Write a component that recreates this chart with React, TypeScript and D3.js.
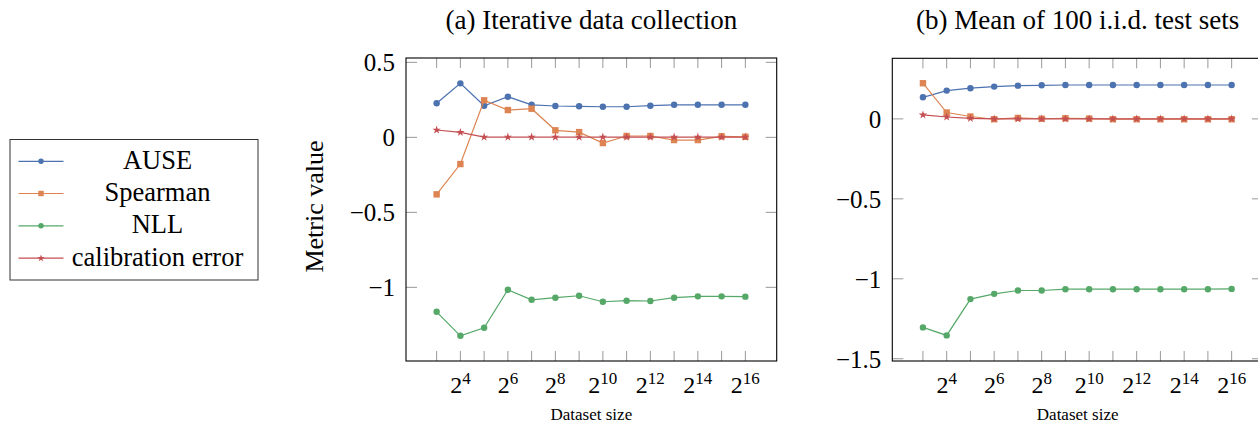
import React from "react";
import * as d3 from "d3";

// x categories: dataset size exponents (2^e)
const exponents = [3, 4, 5, 6, 7, 8, 9, 10, 11, 12, 13, 14, 15, 16];
const xTickLabelExps = [4, 6, 8, 10, 12, 14, 16];

// (a) Iterative data collection
const auseA = [0.227, 0.36, 0.211, 0.271, 0.217, 0.209, 0.207, 0.204, 0.204, 0.211, 0.217, 0.217, 0.217, 0.217];
const spearmanA = [-0.38, -0.178, 0.247, 0.182, 0.191, 0.047, 0.035, -0.038, 0.009, 0.009, -0.018, -0.018, 0.007, 0.004];
const nllA = [-1.163, -1.323, -1.269, -1.016, -1.083, -1.069, -1.056, -1.096, -1.089, -1.091, -1.069, -1.06, -1.06, -1.062];
const calA = [0.049, 0.033, 0.002, 0.002, 0.002, 0.002, 0.002, 0.002, 0.002, 0.002, 0.002, 0.002, 0.002, 0.002];

// (b) Mean of 100 i.i.d. test sets
const auseB = [0.135, 0.177, 0.192, 0.202, 0.208, 0.21, 0.212, 0.212, 0.212, 0.212, 0.212, 0.212, 0.212, 0.212];
const spearmanB = [0.223, 0.04, 0.015, -0.002, 0.006, 0.001, 0.004, 0.002, -0.002, -0.002, -0.002, -0.002, -0.002, -0.002];
const nllB = [-1.304, -1.354, -1.127, -1.094, -1.073, -1.073, -1.065, -1.065, -1.065, -1.065, -1.065, -1.065, -1.065, -1.063];
const calB = [0.025, 0.012, 0.003, 0.0, 0.0, 0.0, 0.0, 0.0, 0.0, 0.0, 0.0, 0.0, 0.0, 0.0];

const seriesNames = ["AUSE", "Spearman", "NLL", "calibration error"];
const yTicksA = [0.5, 0, -0.5, -1];
const yTicksB = [0, -0.5, -1, -1.5];

const colors = ["#4c72b0", "#dd8452", "#55a868", "#c44e52"];
const markers = ["circle", "square", "circle", "star"];
const FONT = "'Liberation Serif', 'Times New Roman', serif";

function fmt(v: number) {
  if (v === 0) return "0";
  return (v < 0 ? "\u2212" : "") + String(Math.abs(v));
}

function Marker({ kind, x, y, color, scale = 1 }: any) {
  if (kind === "circle") return <circle cx={x} cy={y} r={3.2 * scale} fill={color} />;
  if (kind === "square") {
    const s = 6.4 * scale;
    return <rect x={x - s / 2} y={y - s / 2} width={s} height={s} fill={color} />;
  }
  const p = d3.symbol(d3.symbolStar, 22 * scale * scale)();
  return <path d={p || ""} transform={`translate(${x},${y})`} fill={color} />;
}

function Panel({ left, top, width, height, yDomain, yTicks, title, data }: any) {
  const x = d3.scaleLog().base(2).domain([Math.pow(2, 1.71), Math.pow(2, 17.32)]).range([left, left + width]);
  const y = d3.scaleLinear().domain(yDomain).range([top + height, top]);
  const bottom = top + height;
  const right = left + width;
  const tickLen = 10;
  const tickColor = "#999";
  const line = d3
    .line<number>()
    .x((_, i) => x(Math.pow(2, exponents[i])))
    .y((d) => y(d));
  const cx = left + width / 2;
  return (
    <g>
      <text x={cx} y={29} textAnchor="middle" fontFamily={FONT} fontSize={27}>{title}</text>
      {exponents.map((e) => {
        const xx = x(Math.pow(2, e));
        return (
          <g key={"xt" + e}>
            <line x1={xx} x2={xx} y1={bottom} y2={bottom - tickLen} stroke={tickColor} strokeWidth={1} />
            <line x1={xx} x2={xx} y1={top} y2={top + tickLen} stroke={tickColor} strokeWidth={1} />
          </g>
        );
      })}
      {yTicks.map((t: number) => {
        const yy = y(t);
        return (
          <g key={"yt" + t}>
            <line x1={left} x2={left + tickLen + 1} y1={yy} y2={yy} stroke={tickColor} strokeWidth={1} />
            <line x1={right} x2={right - tickLen - 1} y1={yy} y2={yy} stroke={tickColor} strokeWidth={1} />
            <text x={left - 11} y={yy} dy="0.35em" textAnchor="end" fontFamily={FONT} fontSize={25}>{fmt(t)}</text>
          </g>
        );
      })}
      {xTickLabelExps.map((e) => (
        <text key={"xl" + e} x={x(Math.pow(2, e))} y={393} textAnchor="middle" fontFamily={FONT} fontSize={24}>
          <tspan>2</tspan>
          <tspan dy={-9} fontSize={17}>{e}</tspan>
        </text>
      ))}
      <text x={cx} y={420} textAnchor="middle" fontFamily={FONT} fontSize={17}>Dataset size</text>
      {data.map((vals: number[], si: number) => (
        <g key={"s" + si}>
          <path d={line(vals) || ""} fill="none" stroke={colors[si]} strokeWidth={1.2} />
          {vals.map((v, i) => (
            <Marker key={i} kind={markers[si]} x={x(Math.pow(2, exponents[i]))} y={y(v)} color={colors[si]} />
          ))}
        </g>
      ))}
      <rect x={left} y={top} width={width} height={height} fill="none" stroke="#000" strokeWidth={1.1} />
    </g>
  );
}

export default function App() {
  const legendYs = [161.3, 193.5, 225.8, 258.2];
  return (
    <svg width={1258} height={425} style={{ position: "absolute", left: 0, top: 0, background: "#fff" }}>
      <rect x={0} y={0} width={1258} height={425} fill="#fff" />
      {/* legend */}
      <rect x={10} y={139.5} width={248} height={140.5} fill="#fff" stroke="#333" strokeWidth={1} />
      {seriesNames.map((n, i) => (
        <g key={n}>
          <line x1={18.5} x2={63.5} y1={legendYs[i]} y2={legendYs[i]} stroke={colors[i]} strokeWidth={1.2} />
          <Marker kind={markers[i]} x={41} y={legendYs[i]} color={colors[i]} scale={0.85} />
          <text x={157.5} y={legendYs[i] + 7.5} textAnchor="middle" fontFamily={FONT} fontSize={26.5}>{n}</text>
        </g>
      ))}
      <text transform="translate(323,206.5) rotate(-90)" textAnchor="middle" fontFamily={FONT} fontSize={26}>Metric value</text>
      <Panel left={406} top={58} width={370.7} height={303} yDomain={[-1.491, 0.529]} yTicks={yTicksA}
        title="(a) Iterative data collection" data={[auseA, spearmanA, nllA, calA]} />
      <Panel left={892.3} top={58.3} width={370.7} height={302.7} yDomain={[-1.514, 0.379]} yTicks={yTicksB}
        title="(b) Mean of 100 i.i.d. test sets" data={[auseB, spearmanB, nllB, calB]} />
    </svg>
  );
}
